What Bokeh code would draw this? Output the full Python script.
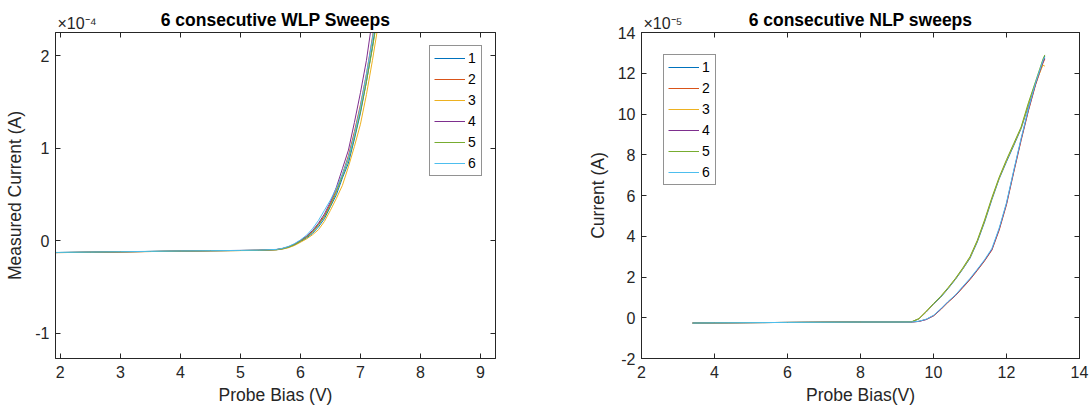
from bokeh.plotting import figure
from bokeh.models import LinearAxis, Title, FixedTicker, Range1d
from bokeh.layouts import row
from bokeh.embed import file_html
from bokeh.resources import INLINE

# ---------------- data ----------------
series_names = ["1", "2", "3", "4", "5", "6"]
colors = ["#0072BD", "#D95319", "#EDB120", "#7E2F8E", "#77AC30", "#4DBEEE"]

# Left: WLP sweeps, current in units of 1e-4 A
wlp_bias = [1.9, 2.5, 3.0, 3.5, 4.0, 4.5, 5.0, 5.3, 5.6, 5.7, 5.8, 5.9, 6.0, 6.1,
            6.2, 6.3, 6.4, 6.5, 6.6, 6.7, 6.8, 6.9, 7.0, 7.1, 7.2, 7.3, 7.4]
wlp_1 = [-0.126, -0.122, -0.118, -0.114, -0.110, -0.106, -0.104, -0.102, -0.096, -0.087, -0.070, -0.045, -0.010, 0.030,
         0.080, 0.15, 0.24, 0.37, 0.50, 0.68, 0.84, 1.10, 1.38, 1.72, 2.10, 2.52, 2.95]
wlp_2 = [-0.127, -0.123, -0.119, -0.115, -0.111, -0.107, -0.104, -0.101, -0.094, -0.083, -0.066, -0.038, 0.000, 0.045,
         0.10, 0.18, 0.27, 0.40, 0.55, 0.72, 0.92, 1.18, 1.47, 1.80, 2.20, 2.62, 3.05]
wlp_3 = [-0.127, -0.123, -0.119, -0.115, -0.111, -0.107, -0.105, -0.103, -0.097, -0.089, -0.074, -0.050, -0.015, 0.020,
         0.065, 0.12, 0.21, 0.33, 0.46, 0.60, 0.80, 1.02, 1.26, 1.58, 1.95, 2.35, 2.80]
wlp_4 = [-0.126, -0.122, -0.118, -0.114, -0.110, -0.106, -0.103, -0.101, -0.093, -0.082, -0.064, -0.035, 0.005, 0.050,
         0.11, 0.19, 0.29, 0.42, 0.58, 0.78, 0.98, 1.28, 1.60, 1.95, 2.40, 2.85, 3.30]
wlp_5 = [-0.126, -0.122, -0.118, -0.114, -0.110, -0.107, -0.104, -0.102, -0.095, -0.085, -0.068, -0.041, -0.004, 0.038,
         0.092, 0.17, 0.26, 0.38, 0.53, 0.70, 0.88, 1.12, 1.40, 1.72, 2.08, 2.48, 2.90]
wlp_6 = [-0.125, -0.121, -0.117, -0.113, -0.109, -0.106, -0.103, -0.100, -0.092, -0.080, -0.060, -0.030, 0.010, 0.060,
         0.13, 0.22, 0.33, 0.44, 0.57, 0.72, 0.90, 1.15, 1.45, 1.80, 2.18, 2.60, 3.02]
wlp_series = [wlp_1, wlp_2, wlp_3, wlp_4, wlp_5, wlp_6]

# Right: NLP sweeps, current in units of 1e-5 A
nlp_bias = [3.4, 4.0, 5.0, 6.0, 7.0, 8.0, 9.0, 9.4, 9.6, 9.8, 10.0, 10.2, 10.4, 10.6, 10.8,
            11.0, 11.2, 11.4, 11.6, 11.8, 12.0, 12.2, 12.4, 12.6, 12.8, 13.0, 13.05]
nlp_1 = [-0.26, -0.25, -0.24, -0.23, -0.22, -0.21, -0.21, -0.20, -0.06, 0.28, 0.66, 1.01, 1.43, 1.88, 2.38,
         2.92, 3.72, 4.70, 5.80, 6.82, 7.66, 8.46, 9.28, 10.40, 11.50, 12.62, 12.85]
nlp_2 = [-0.26, -0.25, -0.24, -0.23, -0.22, -0.21, -0.21, -0.21, -0.18, -0.08, 0.09, 0.40, 0.76, 1.08, 1.47,
         1.87, 2.32, 2.79, 3.32, 4.30, 5.55, 7.15, 8.70, 10.15, 11.45, 12.50, 12.70]
nlp_3 = [-0.26, -0.25, -0.24, -0.23, -0.22, -0.21, -0.21, -0.20, -0.05, 0.30, 0.68, 1.04, 1.46, 1.91, 2.41,
         2.96, 3.77, 4.76, 5.86, 6.86, 7.72, 8.52, 9.32, 10.48, 11.56, 12.40, 12.35]
nlp_4 = [-0.26, -0.25, -0.24, -0.23, -0.22, -0.21, -0.21, -0.21, -0.18, -0.09, 0.10, 0.42, 0.78, 1.10, 1.50,
         1.90, 2.35, 2.82, 3.35, 4.35, 5.60, 7.20, 8.75, 10.20, 11.50, 12.55, 12.75]
nlp_5 = [-0.26, -0.25, -0.24, -0.23, -0.22, -0.21, -0.21, -0.20, -0.04, 0.32, 0.70, 1.06, 1.48, 1.93, 2.44,
         3.00, 3.80, 4.80, 5.90, 6.90, 7.76, 8.56, 9.36, 10.55, 11.62, 12.70, 12.90]
nlp_6 = [-0.26, -0.25, -0.24, -0.23, -0.22, -0.21, -0.21, -0.21, -0.17, -0.07, 0.12, 0.44, 0.80, 1.12, 1.53,
         1.93, 2.38, 2.85, 3.40, 4.40, 5.65, 7.25, 8.80, 10.25, 11.55, 12.62, 12.80]
nlp_series = [nlp_1, nlp_2, nlp_3, nlp_4, nlp_5, nlp_6]

wlp_xticks = [2, 3, 4, 5, 6, 7, 8, 9]
wlp_yticks = [-1, 0, 1, 2]
nlp_xticks = [2, 4, 6, 8, 10, 12, 14]
nlp_yticks = [-2, 0, 2, 4, 6, 8, 10, 12, 14]
wlp_exponent = "×10⁻⁴"
nlp_exponent = "×10⁻⁵"

FONT = "Liberation Sans"
AX = "#262626"


def make_fig(width, bl, br, xr, yr, xt, yt, title, xlabel, ylabel, xs, ys_list,
             legend_loc, legend_margin, exp_text):
    p = figure(width=width, height=414, output_backend="svg", toolbar_location=None,
               x_range=Range1d(*xr), y_range=Range1d(*yr),
               min_border_left=bl, min_border_right=br, min_border_top=32, min_border_bottom=56,
               x_axis_label=xlabel, y_axis_label=ylabel)
    p.background_fill_color = "white"
    p.border_fill_color = "white"
    p.outline_line_color = AX
    p.outline_line_width = 1
    p.grid.visible = False

    # main title shares its row with the multiplier text: negative standoff
    p.title.text = title
    p.title.align = "center"
    p.title.text_font = FONT
    p.title.text_font_size = "17.5px"
    p.title.text_font_style = "bold"
    p.title.text_color = "black"
    p.title.standoff = -36

    for ax, ticks in ((p.xaxis[0], xt), (p.yaxis[0], yt)):
        ax.ticker = FixedTicker(ticks=ticks)
        ax.major_label_overrides = {t: str(t) for t in ticks if t < 0}
        ax.major_tick_in = 5
        ax.major_tick_out = 0
        ax.minor_tick_line_color = None
        ax.axis_line_color = AX
        ax.major_tick_line_color = AX
        ax.major_label_text_font = FONT
        ax.major_label_text_font_size = "16px"
        ax.major_label_text_color = AX
        ax.axis_label_text_font = FONT
        ax.axis_label_text_font_size = "17.5px"
        ax.axis_label_text_font_style = "normal"
        ax.axis_label_text_color = AX
    p.xaxis[0].major_label_standoff = 7
    p.xaxis[0].axis_label_standoff = 4
    p.yaxis[0].major_label_standoff = 6
    p.yaxis[0].axis_label_standoff = 7

    # box ticks on top and right (minor ticks only, so no labels are drawn)
    for side, ticks in (("above", xt), ("right", yt)):
        a = LinearAxis(ticker=FixedTicker(ticks=[], minor_ticks=ticks),
                       major_tick_line_color=None, minor_tick_in=5, minor_tick_out=0,
                       minor_tick_line_color=AX, axis_line_color=AX,
                       major_label_standoff=0)
        p.add_layout(a, side)

    # power-of-ten multiplier above the top-left corner of the axes box
    p.add_layout(Title(text=exp_text, align="left", offset=2, standoff=2,
                       text_font=FONT, text_font_size="16px", text_font_style="normal",
                       text_color=AX), "above")

    for name, col, ys in zip(series_names, colors, ys_list):
        p.line(xs, ys, line_color=col, line_width=1, legend_label=name)

    lg = p.legend[0]
    lg.location = legend_loc
    lg.margin = legend_margin
    lg.padding = 4
    lg.spacing = 5
    lg.glyph_width = 31
    lg.glyph_height = 16
    lg.label_height = 16
    lg.label_width = 9
    lg.label_standoff = 3
    lg.label_text_font = FONT
    lg.label_text_font_size = "14px"
    lg.label_text_color = "black"
    lg.border_line_color = AX
    lg.border_line_width = 1
    lg.background_fill_color = "white"
    lg.background_fill_alpha = 1.0
    return p


p1 = make_fig(546, 55, 51, (1.92, 9.25), (-1.27, 2.25), wlp_xticks, wlp_yticks,
              "6 consecutive WLP Sweeps", "Probe Bias (V)", "Measured Current (A)",
              wlp_bias, wlp_series, "top_right", 13, wlp_exponent)
p2 = make_fig(546, 95, 13, (2, 14), (-2, 14), nlp_xticks, nlp_yticks,
              "6 consecutive NLP sweeps", "Probe Bias(V)", "Current (A)",
              nlp_bias, nlp_series, "top_left", 22, nlp_exponent)

layout = row(p1, p2)
open("out.html", "w").write(file_html(layout, INLINE))
